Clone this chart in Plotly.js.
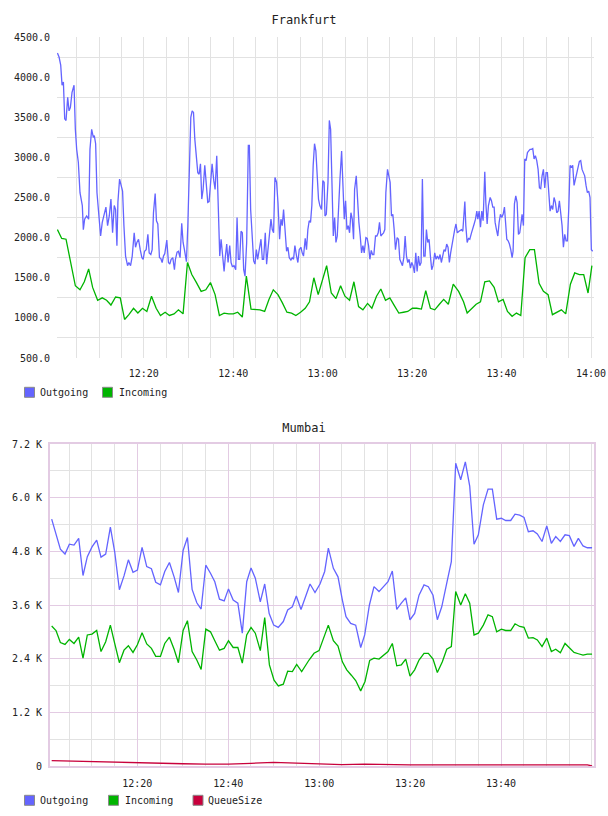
<!DOCTYPE html>
<html><head><meta charset="utf-8">
<script src="https://cdn.plot.ly/plotly-3.0.1.min.js"></script>
<style>html,body{margin:0;padding:0;background:#fff;} #c1{width:608px;height:410px;} #c2{width:608px;height:406px;}</style>
</head><body><div id="c1"></div><div id="c2"></div>
<script>
// Minutes after 12:00
const frOutT = [0.69,1.06,1.43,1.73,2.03,2.32,2.62,2.99,3.29,3.59,3.96,4.41,4.70,5.00,5.37,5.74,6.26,6.49,6.78,7.23,7.68,7.97,8.35,8.72,8.94,9.24,9.54,9.91,10.35,10.72,11.17,11.54,11.91,12.29,12.66,13.03,13.40,13.70,14.00,14.22,14.59,14.89,15.26,15.56,15.93,16.38,16.67,17.05,17.42,17.86,18.16,18.46,18.83,19.21,19.58,19.87,20.17,20.54,20.92,21.21,21.58,21.88,22.17,22.55,22.84,23.14,23.51,23.81,24.11,24.41,24.70,25.15,25.52,25.82,26.12,26.49,26.86,27.08,27.45,27.75,28.12,28.49,28.79,29.09,29.54,
29.85,30.15,30.52,30.82,31.12,31.41,31.78,32.08,32.38,32.68,32.97,33.27,33.64,33.94,34.31,34.61,34.91,35.28,35.65,35.95,36.32,36.69,36.99,37.29,37.58,37.96,38.25,38.55,38.85,39.22,39.52,39.81,40.19,40.56,40.86,41.15,41.45,41.75,42.04,42.34,42.64,43.01,43.38,43.61,43.90,44.20,44.57,44.87,45.17,45.46,45.84,46.21,46.51,46.80,47.17,47.47,47.77,48.14,48.44,48.74,49.03,49.33,49.70,50.00,50.37,50.67,50.97,51.26,51.56,51.93,52.23,52.53,52.90,53.20,53.49,53.79,54.16,54.46,54.76,55.13,55.43,55.72,56.10,56.39,56.69,56.99,57.29,57.58,57.88,58.18,58.48,58.77,59.07,59.37,59.74,60.04,60.33,
60.52,60.82,61.19,61.49,61.78,62.08,62.38,62.68,62.97,63.27,63.57,63.87,64.24,64.54,64.83,65.13,65.43,65.72,66.02,66.32,66.62,66.91,67.14,67.51,67.81,68.10,68.40,68.70,69.00,69.29,69.67,69.96,70.26,70.56,70.86,71.15,71.45,71.82,72.12,72.42,72.71,73.01,73.31,73.61,73.90,74.13,74.50,74.80,75.09,75.39,75.69,75.99,76.28,76.65,76.95,77.25,77.55,77.84,78.14,78.44,78.74,79.03,79.33,79.63,79.93,80.22,80.52,80.82,81.12,81.41,81.71,82.01,82.30,82.60,82.90,83.20,83.49,83.79,84.09,84.39,84.68,85.06,85.35,85.65,85.95,86.25,86.54,86.84,87.14,87.43,87.73,88.03,88.33,88.62,88.92,89.22,89.52,89.81,90.11,90.48,
91.04,91.34,91.79,92.01,92.31,92.61,92.90,93.28,93.57,93.87,94.17,94.47,94.69,94.99,95.29,95.58,95.88,96.25,96.48,96.78,97.07,97.45,97.74,98.04,98.34,98.56,98.86,99.16,99.46,99.75,100.05,100.35,100.65,100.87,101.17,101.47,101.76,102.06,102.36,102.58,102.88,103.18,103.48,103.78,104.07,104.37,104.59,104.89,105.19,105.49,105.79,106.08,106.38,106.68,106.98,107.27,107.57,107.87,108.17,108.47,108.76,109.06,109.36,109.66,109.96,110.25,110.55,110.85,111.15,111.44,111.74,112.04,112.34,112.64,112.93,113.23,113.53,113.83,114.13,114.42,114.72,115.02,115.32,115.61,115.91,116.21,116.51,116.81,117.10,117.40,117.70,118.00,118.29,118.59,118.89,119.19,119.49,119.78,120.08,120.38];
const frOutV = [4300,4250,4150,3900,3940,3480,3460,3750,3580,3620,3810,3900,3350,3100,2940,2560,2400,2100,2230,2270,2230,3100,3350,3250,3270,3170,2560,2350,2020,2190,2310,2380,2150,2270,2480,2060,2400,2350,1900,2440,2730,2650,2580,2150,1770,1650,1690,1650,1770,2060,1880,1940,1980,1850,1750,1730,1830,1850,2040,1810,1790,1850,2310,2550,2210,2170,1750,1740,1690,1770,1800,1970,1690,1670,1730,1750,1600,1730,1820,1830,1750,2180,1940,1850,1700,
2150,2850,3500,3580,3560,3230,2940,2810,2790,2920,2480,2600,2900,2650,2440,2450,2650,2920,2710,2600,3020,2350,1770,1980,1770,1580,1770,1920,1690,1900,1690,1640,1650,1600,2250,1730,1730,2080,2060,1600,1520,1940,3150,3150,2350,1980,1710,1670,1850,1730,1850,1980,1730,1730,2060,1670,1850,2080,2230,2100,2060,2750,2690,2440,1980,2230,2150,2350,2060,1830,1880,1750,1720,1750,1730,1900,1770,1690,1850,1880,1810,1770,1990,1850,2100,2210,2190,2400,2900,3170,3080,2690,2480,2400,2350,2710,2690,
2270,2290,2690,3460,3350,2730,2020,2250,1940,2020,2440,2730,3080,2600,2230,2460,2100,2150,2060,2310,2230,1980,2600,2770,2440,2190,2020,1810,1900,1810,2000,1990,1900,1730,1840,1790,1790,2020,2020,2060,2190,2020,2040,2060,2100,2560,2850,2770,2690,2270,2290,2100,1850,2000,1980,1730,1690,1650,1750,2020,1770,1690,1730,1620,1690,1650,1560,1810,1580,1770,1650,1690,2730,1770,1770,2100,1940,1980,1770,1600,1650,1810,1730,1770,1730,1790,1690,1770,1850,1830,1920,1880,1690,1810,1920,2020,2100,2170,2060,2080,
2100,2080,2450,2150,1940,1990,1980,2060,2130,2170,2230,2330,2230,2330,2130,2330,2210,2820,2440,2170,2400,2500,2460,2380,2380,2190,2100,2020,2190,2290,2250,2290,2380,2170,1980,1960,1920,1850,1750,1830,2420,2520,2440,2040,2060,2190,2290,2150,2980,2960,3060,3080,3100,3100,3110,2980,3020,2960,2850,2620,2610,2770,2850,2620,2810,2810,2560,2330,2400,2350,2500,2440,2310,2330,2460,2290,2150,1880,2040,1960,1960,2350,2900,2880,2900,2650,2730,2770,2850,2950,2960,2850,2810,2770,2650,2560,2580,2500,1850,1830];

const frInT = [0.69,1.13,1.65,2.62,3.66,4.70,5.74,6.71,7.68,8.57,9.69,10.72,11.69,12.66,13.70,14.74,15.71,16.67,17.71,18.68,19.72,20.69,21.73,22.77,23.74,24.78,25.74,26.78,27.75,28.79,29.77,30.74,31.78,32.83,33.87,34.91,35.95,36.91,37.96,39.00,40.04,41.00,42.04,42.94,43.98,45.02,45.99,47.03,47.99,48.96,50.00,50.97,52.01,53.05,54.01,55.06,56.10,57.06,58.03,59.00,60.89,61.93,62.97,64.01,64.98,66.02,66.99,68.03,69.00,70.04,71.00,72.04,73.01,74.05,75.02,76.06,77.03,78.07,79.03,80.07,81.04,82.08,83.05,84.09,85.06,86.10,87.06,88.10,89.20,90.40,91.50,92.31,93.28,94.32,95.29,96.25,97.30,98.34,99.31,100.35,101.32,102.36,103.33,104.30,105.26,106.31,107.35,108.39,109.36,110.40,111.37,112.41,113.38,114.35,115.39,116.36,117.40,118.37,119.34,120.20];
const frInV = [2100,2040,1990,1980,1690,1400,1350,1450,1610,1380,1220,1250,1220,1160,1260,1250,980,1040,1120,1060,1120,1080,1270,1120,1030,1070,1030,1050,1100,1050,1690,1540,1440,1330,1350,1440,1290,1030,1060,1050,1050,1070,1010,1520,1110,1100,1100,1080,1230,1350,1290,1190,1070,1060,1030,1070,1120,1200,1500,1290,1650,1310,1240,1400,1270,1220,1450,1140,1100,1180,1120,1270,1360,1220,1250,1150,1060,1070,1080,1120,1120,1110,1340,1120,1100,1170,1230,1170,1420,1330,1200,1060,1110,1170,1200,1450,1460,1380,1200,1230,1080,1020,1060,1030,1750,1850,1850,1430,1330,1290,1040,1070,1100,1050,1420,1560,1540,1540,1310,1650];

const muOutT = [1.16,2.11,3.07,4.09,5.05,6.07,7.10,8.05,9.00,10.03,11.06,12.01,13.04,14.07,15.02,16.05,17.07,18.03,19.05,20.01,21.04,22.07,23.10,24.05,25.08,26.03,27.06,28.09,29.04,30.07,31.02,32.05,33.08,34.03,35.06,36.09,37.04,38.07,39.10,40.05,41.08,42.11,43.09,44.06,45.01,45.95,47.05,48.02,49.00,50.00,51.00,52.11,53.07,54.10,54.97,56.00,57.99,59.08,60.18,61.21,62.02,63.12,64.14,65.10,65.90,66.93,68.03,69.13,70.01,71.05,72.06,73.16,74.11,75.14,76.09,77.06,78.07,79.04,79.98,81.00,81.96,83.06,84.01,85.04,85.99,86.96,88.06,89.07,90.03,91.13,92.15,93.11,94.06,95.01,96.11,97.14,98.09,99.05,100.07,101.03,102.13,103.08,104.11,105.06,106.01,107.04,107.99,109.02,110.06,111.07,112.03,113.05,114.08,115.03,116.06,117.01,118.04,118.98,120.02];
const muOutV = [5520,5190,4850,4740,4960,4940,5090,4260,4680,4900,5050,4670,4740,5340,4790,3940,4250,4610,4330,4380,4890,4460,4410,4110,4050,4350,4550,4230,3880,4820,5110,3950,3650,3510,4490,4310,4120,3730,3690,3960,3710,3640,2970,4120,4430,4200,3670,4070,3410,3150,3100,3230,3490,3560,3800,3500,4070,3880,4070,4350,4870,4420,4230,3710,3340,3190,3150,2650,2930,3600,4010,3900,4010,4120,4360,3500,3640,3760,3270,3410,3820,4050,4010,3820,3270,3560,4090,4570,6770,6400,6800,6260,4960,5170,5840,6190,6190,5520,5540,5490,5490,5630,5610,5560,5240,5260,5190,5020,5370,4980,5130,5020,5170,5150,4910,5090,4920,4880,4880];

const muInT = [1.16,2.11,3.07,4.09,5.05,6.07,7.10,8.05,9.00,10.03,11.06,12.01,13.04,14.07,15.02,16.05,17.07,18.03,19.05,20.01,21.04,22.07,23.10,24.05,25.08,26.03,27.06,28.09,29.04,30.07,31.02,32.05,33.08,34.03,35.06,36.09,37.04,38.07,39.10,40.05,41.08,42.11,43.09,44.06,45.01,45.95,47.05,48.02,49.05,50.07,51.02,52.11,53.07,54.10,55.05,56.15,57.77,58.87,59.97,61.06,62.01,63.12,64.14,65.10,66.06,67.07,68.03,69.13,70.08,71.11,72.06,73.16,74.11,75.14,76.09,77.06,78.07,79.04,79.98,81.00,81.96,83.06,84.01,85.04,85.99,87.09,88.06,89.07,90.03,91.13,92.15,93.11,94.06,95.01,96.11,97.14,98.09,99.05,100.07,101.03,102.13,103.08,104.11,105.06,106.01,107.04,107.99,109.02,110.06,111.07,112.03,113.05,114.08,115.03,116.06,117.01,118.04,118.98,120.02];
const muInV = [3130,3030,2760,2720,2830,2740,2880,2410,2930,2950,3030,2560,2780,3150,2740,2310,2590,2690,2540,2710,2980,2730,2630,2450,2450,2740,2880,2610,2310,3030,3250,2560,2370,2160,3060,3000,2800,2590,2630,2800,2650,2650,2300,2930,3100,2970,2580,3320,2260,1920,1790,1830,2120,2110,2270,2110,2370,2520,2580,2890,3150,2800,2680,2330,2150,2030,1910,1680,1890,2360,2410,2390,2480,2560,2740,2240,2260,2390,2010,2150,2370,2520,2520,2390,2090,2330,2610,2670,3900,3600,3850,3640,2930,2970,3150,3380,3340,3000,3060,3030,3030,3180,3120,3100,2860,2870,2820,2670,2860,2560,2610,2530,2740,2650,2540,2510,2480,2500,2500];

const muQT = [1.16,5,10,15,20,25,30,35,40,45,50,55,60,65,70,75,80,90,100,110,119,120.02];
const muQV = [120,110,95,75,60,55,50,40,40,60,80,65,45,30,40,30,25,25,25,25,25,0];

const frYTicks = [500,1000,1500,2000,2500,3000,3500,4000,4500];
const frYGrid = [750,1250,1750,2250,2750,3250,3750,4250];
const xGridMin = [5,10,15,20,25,30,35,40,45,50,55,60,65,70,75,80,85,90,95,100,105,110,115,120];
const frXText = ["","","","12:20","","","","12:40","","","","13:00","","","","13:20","","","","13:40","","","","14:00"];
const muXMajor = [20,40,60,80,100];
const muXText = ["12:20","12:40","13:00","13:20","13:40"];
const muYTicks = [0,1200,2400,3600,4800,6000,7200];
const muYText = ["0","1.2 K","2.4 K","3.6 K","4.8 K","6.0 K","7.2 K"];

const frNames = ["Outgoing","Incoming"];
const muNames = ["Outgoing","Incoming","QueueSize"];

const BLUE='#6464ff', GREEN='#00b400', RED='#c8003c';
const MONO='"DejaVu Sans Mono", monospace';
const GRID='#e2e2e2', PINK='#e3cbe3';

function line(x,y,color,name){
  return {x:x,y:y,type:'scatter',mode:'lines',name:name,showlegend:false,
    line:{color:color,width:1.3}};
}
// custom legend: square swatches + labels placed below the plot (pixel layout -> paper coords)
function legendItems(names,colors,swatchX,textX,cy,m,W,H){
  const pw=W-m.l-m.r, ph=H-m.t-m.b;
  const px=v=>(v-m.l)/pw, py=v=>(H-m.b-v)/ph;
  const shapes=[], anns=[];
  names.forEach((n,i)=>{
    shapes.push({type:'rect',xref:'paper',yref:'paper',x0:px(swatchX[i]),x1:px(swatchX[i]+10),
      y0:py(cy-5),y1:py(cy+5),fillcolor:colors[i],line:{color:'#8a8a8a',width:1},layer:'above'});
    anns.push({xref:'paper',yref:'paper',x:px(textX[i]),y:py(cy),xanchor:'left',yanchor:'middle',
      showarrow:false,text:n,font:{family:MONO,size:10,color:'#222'},borderpad:0});
  });
  return {shapes,anns};
}

const m1={l:57,r:14,t:37,b:52};
const lg1=legendItems(frNames,[BLUE,GREEN],[24.5,102.5],[39,117.5],392.3,m1,608,410);
Plotly.newPlot('c1',[
  line(frOutT,frOutV,BLUE,'Outgoing'),
  line(frInT,frInV,GREEN,'Incoming')
],{
  width:608,height:410,margin:m1,
  paper_bgcolor:'#fff',plot_bgcolor:'#fff',showlegend:false,
  title:{text:'Frankfurt',x:0.5,xref:'container',y:1-20/410,yref:'container',yanchor:'middle',font:{family:MONO,size:12,color:'#222'}},
  font:{family:MONO,size:10,color:'#222'},
  xaxis:{range:[0.6,120.67],tickmode:'array',tickvals:xGridMin,ticktext:frXText,showgrid:true,gridcolor:GRID,gridwidth:1,
    zeroline:false,showline:false,ticks:'',ticklabelstandoff:8,tickfont:{family:MONO,size:10,color:'#222'}},
  yaxis:{range:[500,4500],tickmode:'array',tickvals:frYTicks,tickformat:'.1f',showgrid:false,zeroline:false,showline:false,ticks:'',
    ticklabelstandoff:6,tickfont:{family:MONO,size:10,color:'#222'},
    minor:{tickmode:'array',tickvals:frYGrid,showgrid:true,gridcolor:GRID,gridwidth:1,ticks:''}},
  shapes:lg1.shapes, annotations:lg1.anns
},{staticPlot:true});

const m2={l:50,r:14,t:34,b:50};
const lg2=legendItems(muNames,[BLUE,GREEN,RED],[24.5,108.5,193],[39,124,207],390.3,m2,608,406);
Plotly.newPlot('c2',[
  line(muOutT,muOutV,BLUE,'Outgoing'),
  line(muInT,muInV,GREEN,'Incoming'),
  line(muQT,muQV,RED,'QueueSize')
],{
  width:608,height:406,margin:m2,
  paper_bgcolor:'#fff',plot_bgcolor:'#fff',showlegend:false,
  title:{text:'Mumbai',x:0.5,xref:'container',y:1-18/406,yref:'container',yanchor:'middle',font:{family:MONO,size:12,color:'#222'}},
  font:{family:MONO,size:10,color:'#222'},
  xaxis:{range:[0.79,120.45],tickmode:'array',tickvals:muXMajor,ticktext:muXText,showgrid:true,gridcolor:PINK,gridwidth:1,
    zeroline:false,showline:true,linecolor:PINK,linewidth:2,mirror:true,ticks:'',ticklabelstandoff:7,
    tickfont:{family:MONO,size:10,color:'#222'},
    minor:{tickmode:'array',tickvals:xGridMin,showgrid:true,gridcolor:GRID,gridwidth:1,ticks:''}},
  yaxis:{range:[0,7200],tickmode:'array',tickvals:muYTicks,ticktext:muYText,showgrid:true,gridcolor:PINK,gridwidth:1,
    zeroline:false,showline:true,linecolor:PINK,linewidth:2,mirror:true,ticks:'',ticklabelstandoff:4,
    tickfont:{family:MONO,size:10,color:'#222'},
    minor:{tickmode:'array',tickvals:[600,1800,3000,4200,5400,6600],showgrid:true,gridcolor:GRID,gridwidth:1,ticks:''}},
  shapes:lg2.shapes, annotations:lg2.anns
},{staticPlot:true});
</script></body></html>
